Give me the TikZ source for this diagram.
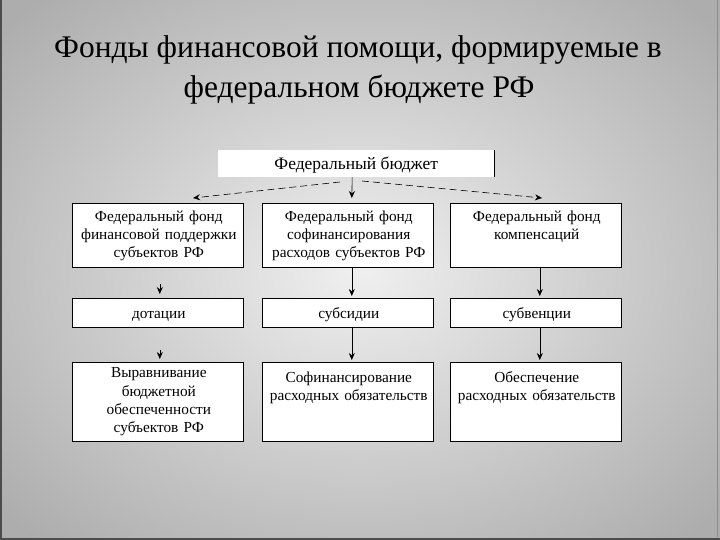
\documentclass[tikz,border=0pt]{standalone}
\usepackage{fontspec}
\setmainfont{Liberation Serif}
\usetikzlibrary{arrows.meta,calc}
\begin{document}
\begin{tikzpicture}[x=1pt,y=-1pt,
  box/.style={draw=black,line width=0.6pt,fill=white,anchor=north west,
    minimum width=171pt,inner sep=0pt},
  txt/.style={anchor=north,text width=168pt,align=center,inner sep=0pt,
    font=\fontsize{15.3}{17.8}\selectfont,execute at begin node=\strut},
  arr/.style={-{Stealth[length=7pt,width=6pt]},line width=0.6pt},
  darr/.style={arr,dash pattern=on 7pt off 4pt}]
\useasboundingbox (0,0) rectangle (720,540);
\shade[inner color=white!94!black,outer color=black!32] (-120,-90) rectangle (840,630);
\fill[black!70] (0,0) rectangle (2,540);
\fill[black!70] (0,538) rectangle (720,540);
\draw[black!45,line width=0.8pt] (717,0) -- (717,537);
% title
\node[font=\fontsize{31.5}{38}\selectfont,anchor=base] (t1) at (358,58)
  {Фонды финансовой помощи, формируемые в};
\node[font=\fontsize{31.5}{38}\selectfont,anchor=base] (t2) at (359,98)
  {федеральном бюджете РФ};
% top box
\node[fill=white,anchor=north west,minimum width=276pt,minimum height=27pt,
  inner sep=0pt] (fb) at (218,150) {};
\node[font=\fontsize{17.5}{20}\selectfont,anchor=base] (fbt) at ($(fb.north)+(0,20)$) {Федеральный бюджет};
\draw[line width=0.8pt] (fb.north east) -- (fb.south east);
% row 1
\node[box,minimum height=64pt] (f1) at (72,203) {};
\node[box,minimum height=64pt] (f2) at (262,203) {};
\node[box,minimum height=64pt] (f3) at (450,203) {};
\node[txt] (f1t) at ($(f1.north)+(1,6)$) {Федеральный фонд финансовой поддержки субъектов РФ};
\node[txt] (f2t) at ($(f2.north)+(1,6)$) {Федеральный фонд софинансирования расходов субъектов РФ};
\node[txt] (f3t) at ($(f3.north)+(1,6)$) {Федеральный фонд\\компенсаций};
% row 2
\node[box,minimum height=29pt] (d1) at (72,298) {};
\node[box,minimum height=29pt] (d2) at (262,298) {};
\node[box,minimum height=29pt] (d3) at (450,298) {};
\node[txt] (d1t) at ($(d1.north)+(1,7.5)$) {дотации};
\node[txt] (d2t) at ($(d2.north)+(1,7.5)$) {субсидии};
\node[txt] (d3t) at ($(d3.north)+(1,7.5)$) {субвенции};
% row 3
\node[box,minimum height=79pt] (r1) at (72,362) {};
\node[box,minimum height=79pt] (r2) at (262,362) {};
\node[box,minimum height=79pt] (r3) at (450,362) {};
\node[txt,font=\fontsize{15.3}{18.2}\selectfont] (r1t) at ($(r1.north)+(1,3)$) {Выравнивание\\бюджетной\\обеспеченности\\субъектов РФ};
\node[txt] (r2t) at ($(r2.north)+(1,8)$) {Софинансирование\\расходных обязательств};
\node[txt] (r3t) at ($(r3.north)+(1,8)$) {Обеспечение\\расходных обязательств};
% connectors
\coordinate (dl) at (340,182);
\coordinate (dr) at (362,181);
\coordinate (dlend) at (193,198);
\coordinate (drend) at (542,198);
\draw[darr] (dl) -- (dlend);
\draw[darr] (dr) -- (drend);
\draw[arr] ($(fb.south)+(-4,0)$) -- ($(f2.north)+(4,-5)$);
\coordinate (a1) at ($(d1.north)+(2,-14)$);
\draw[arr] (a1) -- ($(d1.north)+(2,-4)$);
\draw[arr] ($(f2.south)+(4,0)$) -- ($(d2.north)+(4,-2)$);
\draw[arr] ($(f3.south)+(4,0)$) -- ($(d3.north)+(4,-2)$);
\coordinate (a2) at ($(r1.north)+(2,-12)$);
\draw[arr] (a2) -- ($(r1.north)+(2,-3)$);
\draw[arr] ($(d2.south)+(4,0)$) -- ($(r2.north)+(4,-2)$);
\draw[arr] ($(d3.south)+(4,0)$) -- ($(r3.north)+(4,-2)$);
\end{tikzpicture}
\end{document}
